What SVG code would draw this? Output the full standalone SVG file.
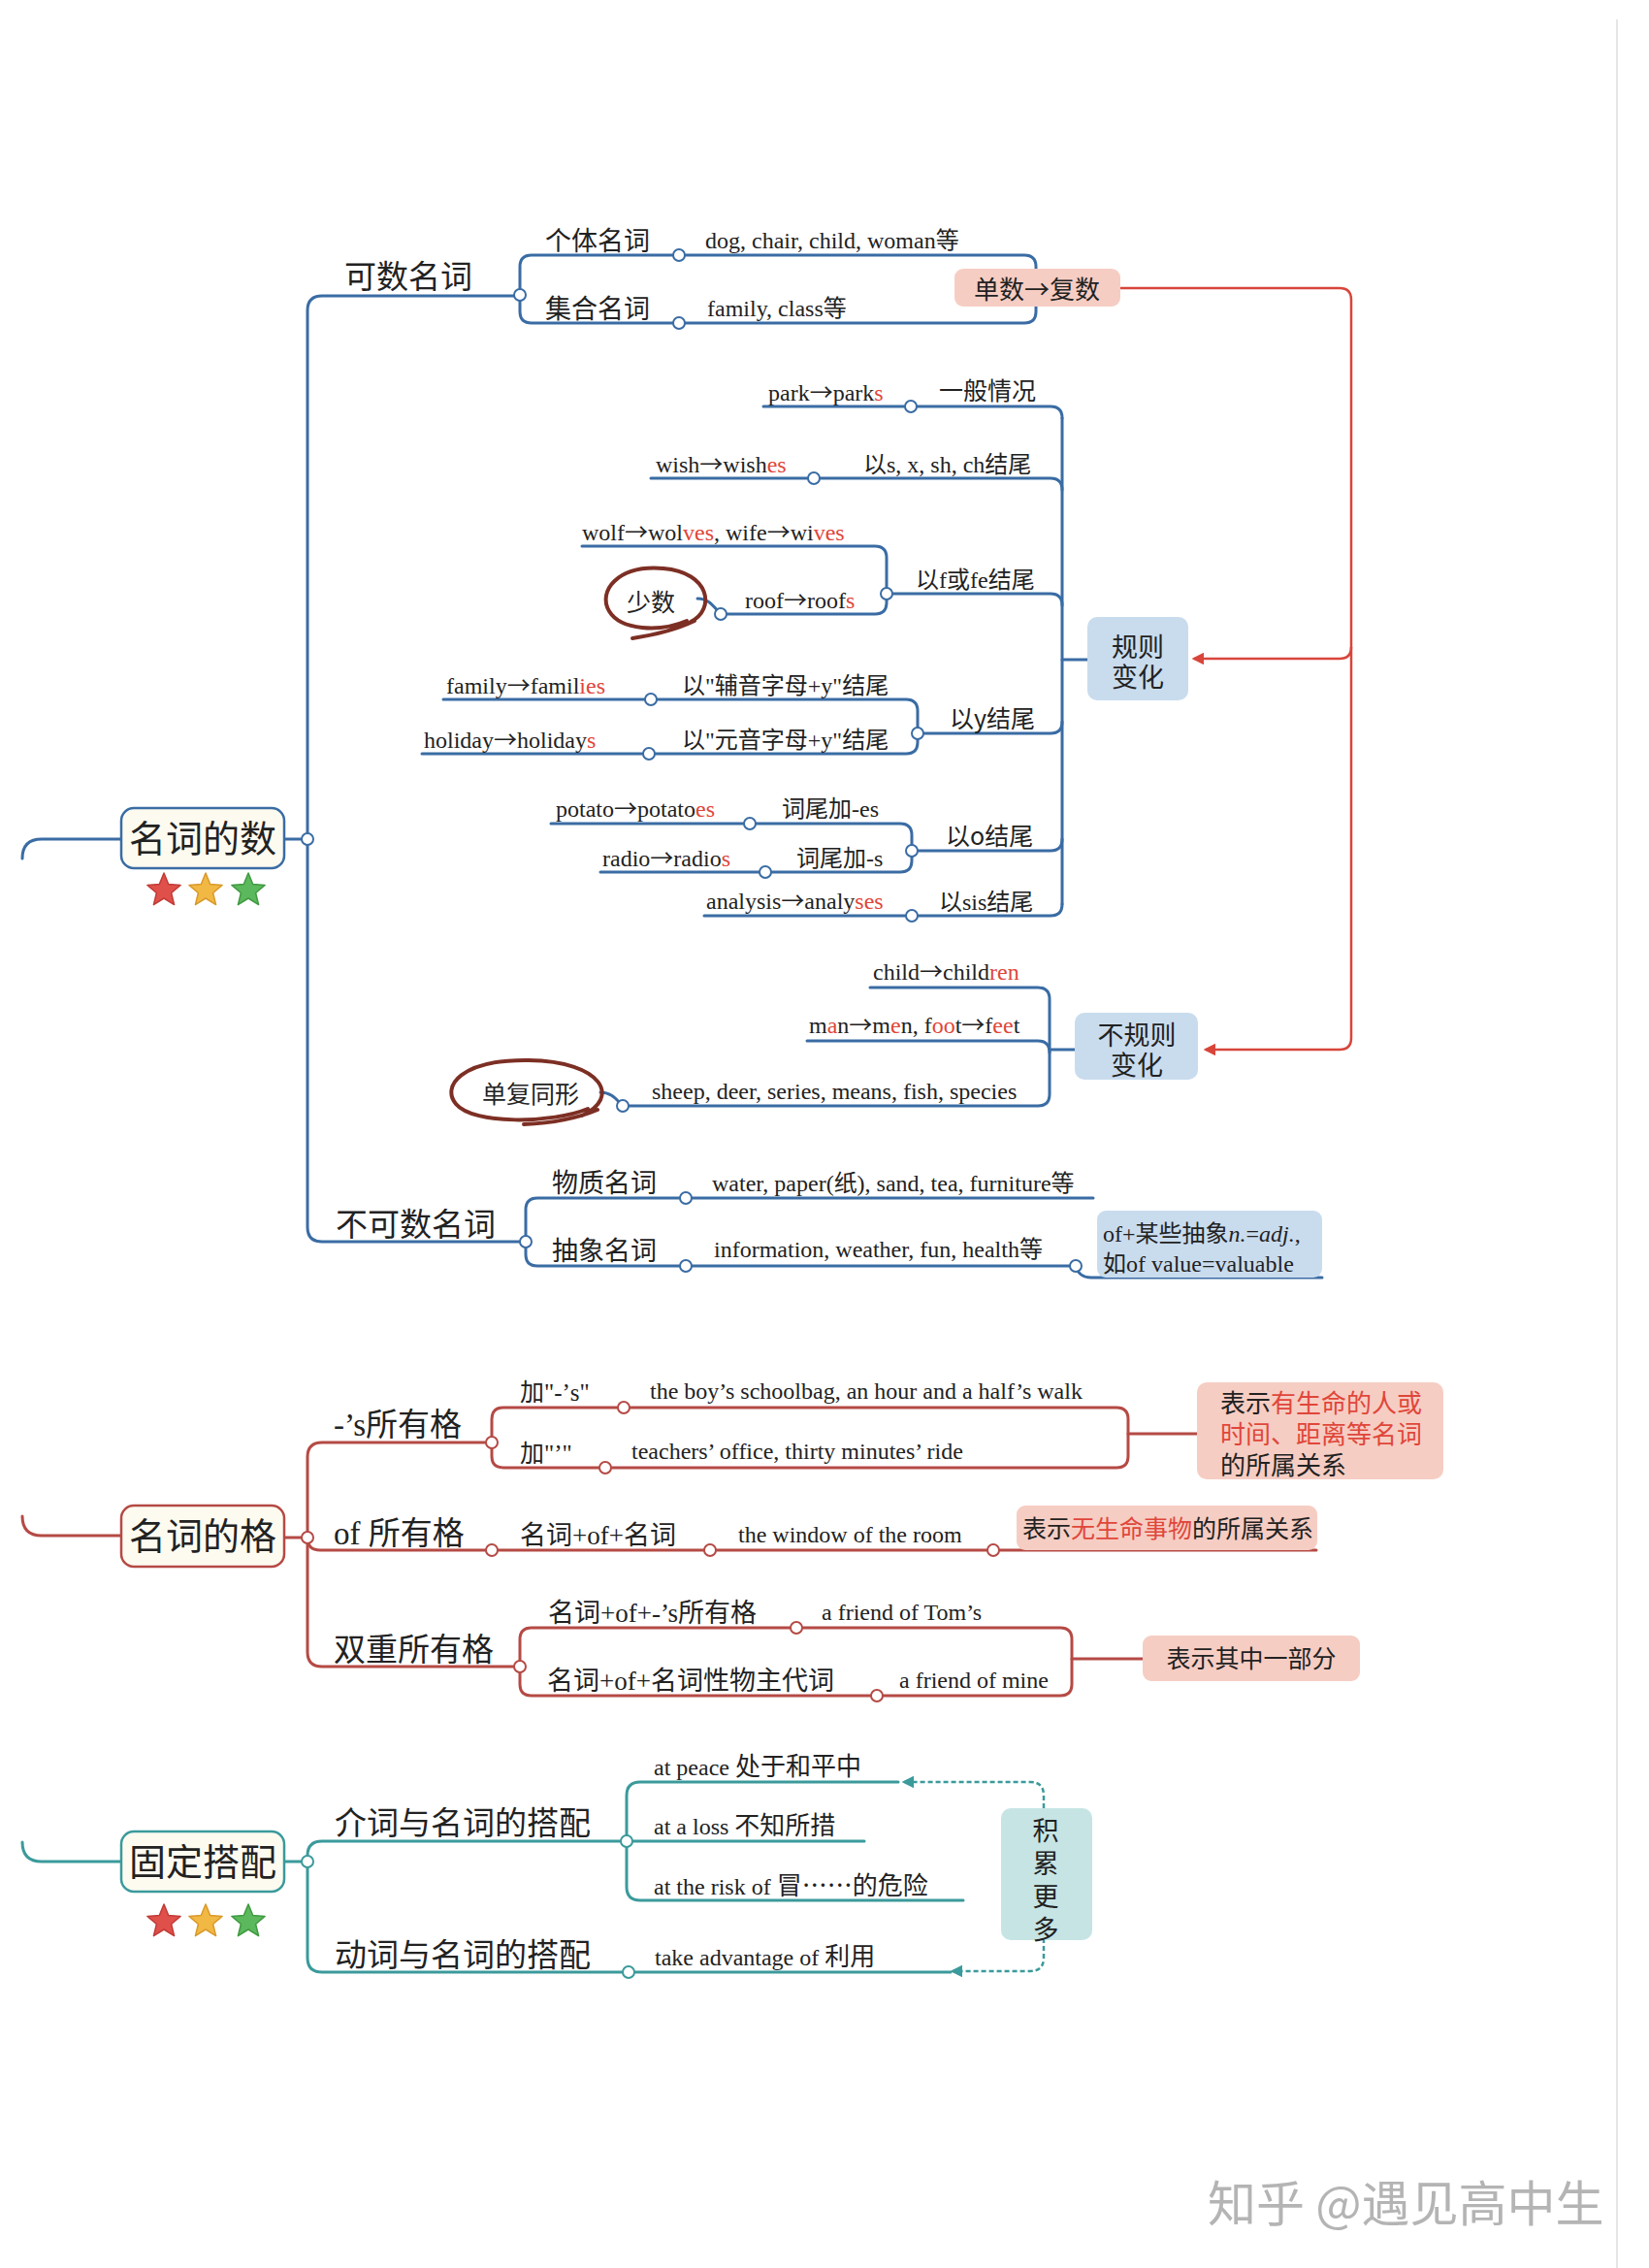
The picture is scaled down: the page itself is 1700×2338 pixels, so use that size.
<svg xmlns="http://www.w3.org/2000/svg" width="1700" height="2338" viewBox="0 0 1700 2338">
<defs>
<style>
.bl{fill:none;stroke:#3a6ca4;stroke-width:3;stroke-linecap:round}
.rd{fill:none;stroke:#b54a45;stroke-width:3;stroke-linecap:round}
.tl{fill:none;stroke:#3b9a9b;stroke-width:3;stroke-linecap:round}
.rl{fill:none;stroke:#d8453b;stroke-width:2.5}
.td{fill:none;stroke:#3b9a9b;stroke-width:2.5;stroke-dasharray:5 3}
.dotb{fill:#fff;stroke:#3a6ca4;stroke-width:2}
.dotr{fill:#fff;stroke:#b54a45;stroke-width:2}
.dott{fill:#fff;stroke:#3b9a9b;stroke-width:2}
.cn{font-family:"Noto Sans CJK SC","Noto Sans",sans-serif;fill:#222}
.en{font-family:"Liberation Serif","Noto Sans CJK SC",serif;fill:#222;font-size:24px}
.ar{font-family:"Noto Sans CJK SC",sans-serif}
.hl{fill:#e0463a}
.big{font-size:38px}
.l1{font-size:33px}
.l2{font-size:27px}
.l3{font-size:25px}
.f26{font-size:26px}
.rootb{fill:#fdfbf0;stroke-width:2.5}
.blue{fill:#c9dcee}
.pink{fill:#f6cdc3}
.teal{fill:#c6e4e4}
.st{stroke-width:1.5;stroke-linejoin:round}
.wm{font-family:"Noto Sans CJK SC",sans-serif;font-size:50px;fill:#b4b4b4}
</style>
<marker id="arrR" viewBox="0 0 10 10" refX="8" refY="5" markerWidth="5" markerHeight="5" orient="auto"><path d="M0,0 L10,5 L0,10 z" fill="#d8453b"/></marker>
<marker id="arrT" viewBox="0 0 10 10" refX="8" refY="5" markerWidth="5" markerHeight="5" orient="auto"><path d="M0,0 L10,5 L0,10 z" fill="#3b9a9b"/></marker>
<path id="star" d="M0,-18 L4.7,-6.5 L17.1,-5.6 L7.6,2.5 L10.6,14.6 L0,8 L-10.6,14.6 L-7.6,2.5 L-17.1,-5.6 L-4.7,-6.5 Z"/>
</defs>

<rect x="0" y="0" width="1700" height="2338" fill="#ffffff"/>
<line x1="1667" y1="20" x2="1667" y2="2338" stroke="#e6e6e6" stroke-width="2"/>

<!-- connectors -->
<g id="connectors">
  <!-- trunk stubs entering from the left page edge -->
  <path class="bl" d="M23 885 Q23 865 43 865 H125"/>
  <path class="rd" d="M23 1563 Q23 1583 43 1583 H125"/>
  <path class="tl" d="M23 1899 Q23 1919 43 1919 H125"/>

  <!-- 名词的数 -->
  <path class="bl" d="M293 865 H317"/>
  <path class="bl" d="M536 305 H332 Q317 305 317 320 V1265 Q317 1280 332 1280 H542"/>
  <path class="bl" d="M548 263 H1056 Q1068 263 1068 275 V321 Q1068 333 1056 333 H548 Q536 333 536 321 V275 Q536 263 548 263"/>

  <!-- 规则变化 -->
  <path class="bl" d="M1095 431 V932"/>
  <path class="bl" d="M787 419 H1083 Q1095 419 1095 431"/>
  <path class="bl" d="M671 493 H1083 Q1095 493 1095 505"/>
  <path class="bl" d="M914 612 H1083 Q1095 612 1095 624"/>
  <path class="bl" d="M600 563 H902 Q914 563 914 575 V621 Q914 633 902 633 H743"/>
  <path class="bl" d="M719 617 C731 617 736 626 743 633"/>
  <path class="bl" d="M946 756 H1083 Q1095 756 1095 744"/>
  <path class="bl" d="M457 721 H934 Q946 721 946 733 V765 Q946 777 934 777 H435"/>
  <path class="bl" d="M940 877 H1083 Q1095 877 1095 865"/>
  <path class="bl" d="M568 849 H928 Q940 849 940 861 V887 Q940 899 928 899 H619"/>
  <path class="bl" d="M726 944 H1083 Q1095 944 1095 932"/>
  <path class="bl" d="M1095 680 H1122"/>

  <!-- 不规则变化 -->
  <path class="bl" d="M897 1018 H1070 Q1082 1018 1082 1030 V1128 Q1082 1140 1070 1140 H642"/>
  <path class="bl" d="M832 1073 H1070 Q1082 1073 1082 1085"/>
  <path class="bl" d="M1082 1082 H1109"/>
  <path class="bl" d="M619 1126 C630 1126 635 1133 642 1140"/>

  <!-- 不可数名词 -->
  <path class="bl" d="M1127 1235 H554 Q542 1235 542 1247 V1293 Q542 1305 554 1305 H1109"/>
  <path class="bl" d="M1109 1305 Q1112 1317 1125 1317 H1363"/>

  <!-- 单数→复数 -->
  <path class="rl" d="M1155 297 H1381 Q1393 297 1393 309 V1070 Q1393 1082 1381 1082 H1243" marker-end="url(#arrR)"/>
  <path class="rl" d="M1393 667 Q1393 679 1381 679 H1231" marker-end="url(#arrR)"/>

  <!-- 名词的格 -->
  <path class="rd" d="M293 1585 H317"/>
  <path class="rd" d="M507 1487 H332 Q317 1487 317 1502 V1703 Q317 1718 332 1718 H536"/>
  <path class="rd" d="M317 1585 Q317 1598 330 1598 H1357"/>
  <path class="rd" d="M519 1451 H1151 Q1163 1451 1163 1463 V1501 Q1163 1513 1151 1513 H519 Q507 1513 507 1501 V1463 Q507 1451 519 1451"/>
  <path class="rd" d="M1163 1478 H1234"/>
  <path class="rd" d="M548 1678 H1093 Q1105 1678 1105 1690 V1736 Q1105 1748 1093 1748 H548 Q536 1748 536 1736 V1690 Q536 1678 548 1678"/>
  <path class="rd" d="M1105 1710 H1178"/>

  <!-- 固定搭配 -->
  <path class="tl" d="M293 1919 H317"/>
  <path class="tl" d="M646 1898 H332 Q317 1898 317 1913 V2018 Q317 2033 332 2033 H980"/>
  <path class="tl" d="M926 1837 H660 Q646 1837 646 1851 V1945 Q646 1959 660 1959 H993"/>
  <path class="tl" d="M646 1898 H891"/>
  <path class="td" d="M1076 1864 V1851 Q1076 1837 1062 1837 H932" marker-end="url(#arrT)"/>
  <path class="td" d="M1076 1998 V2018 Q1076 2032 1062 2032 H982" marker-end="url(#arrT)"/>

  <!-- junction dots -->
  <g class="dotb">
    <circle cx="317" cy="865" r="6"/>
    <circle cx="536" cy="304" r="6"/>
    <circle cx="700" cy="263" r="6"/>
    <circle cx="700" cy="333" r="6"/>
    <circle cx="939" cy="419" r="6"/>
    <circle cx="839" cy="493" r="6"/>
    <circle cx="914" cy="612" r="6"/>
    <circle cx="743" cy="633" r="6"/>
    <circle cx="946" cy="756" r="6"/>
    <circle cx="671" cy="721" r="6"/>
    <circle cx="669" cy="777" r="6"/>
    <circle cx="940" cy="877" r="6"/>
    <circle cx="773" cy="849" r="6"/>
    <circle cx="789" cy="899" r="6"/>
    <circle cx="940" cy="944" r="6"/>
    <circle cx="642" cy="1140" r="6"/>
    <circle cx="542" cy="1280" r="6"/>
    <circle cx="707" cy="1235" r="6"/>
    <circle cx="707" cy="1305" r="6"/>
    <circle cx="1109" cy="1305" r="6"/>
  </g>
  <g class="dotr">
    <circle cx="317" cy="1585" r="6"/>
    <circle cx="507" cy="1487" r="6"/>
    <circle cx="643" cy="1451" r="6"/>
    <circle cx="624" cy="1513" r="6"/>
    <circle cx="507" cy="1598" r="6"/>
    <circle cx="732" cy="1598" r="6"/>
    <circle cx="1024" cy="1598" r="6"/>
    <circle cx="536" cy="1718" r="6"/>
    <circle cx="821" cy="1678" r="6"/>
    <circle cx="904" cy="1748" r="6"/>
  </g>
  <g class="dott">
    <circle cx="317" cy="1919" r="6"/>
    <circle cx="646" cy="1898" r="6"/>
    <circle cx="648" cy="2033" r="6"/>
  </g>
</g>

<!-- 名词的数 -->
<g id="node-number">
  <rect class="rootb" x="125" y="833" width="168" height="62" rx="13" stroke="#3a6ca4"/>
  <text class="cn big" x="209" y="878" text-anchor="middle">名词的数</text>
  <use href="#star" x="169" y="918" class="st" fill="#e0504b" stroke="#c23a36"/>
  <use href="#star" x="212" y="918" class="st" fill="#f2b844" stroke="#d9992a"/>
  <use href="#star" x="256" y="918" class="st" fill="#5cb85c" stroke="#3f9a40"/>
</g>

<g id="node-countable"><text class="cn l1" x="355" y="297">可数名词</text></g>
<g id="node-individual">
  <text class="cn l2" x="562" y="258">个体名词</text>
  <text class="en" x="727" y="256">dog, chair, child, woman等</text>
</g>
<g id="node-collective">
  <text class="cn l2" x="562" y="328">集合名词</text>
  <text class="en" x="729" y="326">family, class等</text>
</g>
<g id="node-sg-pl">
  <rect class="pink" x="984" y="277" width="171" height="39" rx="9"/>
  <text class="cn f26" x="1069" y="308" text-anchor="middle">单数→复数</text>
</g>

<g id="node-regular">
  <rect class="blue" x="1121" y="636" width="104" height="86" rx="10"/>
  <text class="cn l2" text-anchor="middle"><tspan x="1173" y="677">规则</tspan><tspan x="1173" y="708">变化</tspan></text>
</g>
<g id="node-general">
  <text class="en" x="792" y="413">park<tspan class="ar">→</tspan>park<tspan class="hl">s</tspan></text>
  <text class="cn l3" x="968" y="412">一般情况</text>
</g>
<g id="node-sxshch">
  <text class="en" x="676" y="487">wish<tspan class="ar">→</tspan>wish<tspan class="hl">es</tspan></text>
  <text class="en" x="890" y="487">以s, x, sh, ch结尾</text>
</g>
<g id="node-ffe">
  <text class="en" x="944" y="606">以f或fe结尾</text>
  <text class="en" x="600" y="557">wolf<tspan class="ar">→</tspan>wol<tspan class="hl">ves</tspan>, wife<tspan class="ar">→</tspan>wi<tspan class="hl">ves</tspan></text>
  <text class="en" x="768" y="627">roof<tspan class="ar">→</tspan>roof<tspan class="hl">s</tspan></text>
</g>
<g id="node-few">
  <path d="M712 641 C738 628 732 590 684 586 C636 582 616 610 628 630 C640 650 680 652 708 640 M716 640 C695 650 672 655 652 658" fill="none" stroke="#7d2f24" stroke-width="4" stroke-linecap="round"/>
  <text class="cn l3" x="671" y="630" text-anchor="middle">少数</text>
</g>
<g id="node-y">
  <text class="cn l3" x="979" y="750">以y结尾</text>
  <text class="en" x="460" y="715">family<tspan class="ar">→</tspan>famil<tspan class="hl">ies</tspan></text>
  <text class="en" x="703" y="715">以"辅音字母+y"结尾</text>
  <text class="en" x="437" y="771">holiday<tspan class="ar">→</tspan>holiday<tspan class="hl">s</tspan></text>
  <text class="en" x="703" y="771">以"元音字母+y"结尾</text>
</g>
<g id="node-o">
  <text class="cn l3" x="975" y="871">以o结尾</text>
  <text class="en" x="573" y="842">potato<tspan class="ar">→</tspan>potato<tspan class="hl">es</tspan></text>
  <text class="en" x="806" y="842">词尾加-es</text>
  <text class="en" x="621" y="893">radio<tspan class="ar">→</tspan>radio<tspan class="hl">s</tspan></text>
  <text class="en" x="821" y="893">词尾加-s</text>
</g>
<g id="node-sis">
  <text class="en" x="968" y="938">以sis结尾</text>
  <text class="en" x="728" y="937">analysis<tspan class="ar">→</tspan>analy<tspan class="hl">ses</tspan></text>
</g>

<g id="node-irregular">
  <rect class="blue" x="1108" y="1044" width="127" height="69" rx="10"/>
  <text class="cn l2" text-anchor="middle"><tspan x="1172" y="1077">不规则</tspan><tspan x="1172" y="1108">变化</tspan></text>
  <text class="en" x="900" y="1010">child<tspan class="ar">→</tspan>child<tspan class="hl">ren</tspan></text>
  <text class="en" x="834" y="1065">m<tspan class="hl">a</tspan>n<tspan class="ar">→</tspan>m<tspan class="hl">e</tspan>n, f<tspan class="hl">oo</tspan>t<tspan class="ar">→</tspan>f<tspan class="hl">ee</tspan>t</text>
  <text class="en" x="672" y="1133">sheep, deer, series, means, fish, species</text>
</g>
<g id="node-same">
  <path d="M600 1150 C640 1132 622 1094 545 1093 C475 1092 455 1120 470 1138 C488 1160 570 1158 606 1143 M616 1144 C590 1155 565 1158 540 1159" fill="none" stroke="#7d2f24" stroke-width="4" stroke-linecap="round"/>
  <text class="cn l3" x="547" y="1137" text-anchor="middle">单复同形</text>
</g>

<g id="node-uncountable"><text class="cn l1" x="346" y="1274">不可数名词</text></g>
<g id="node-material">
  <text class="cn l2" x="569" y="1229">物质名词</text>
  <text class="en" x="734" y="1228">water, paper(纸), sand, tea, furniture等</text>
</g>
<g id="node-abstract">
  <text class="cn l2" x="569" y="1299">抽象名词</text>
  <text class="en" x="736" y="1296">information, weather, fun, health等</text>
</g>
<g id="node-of-abstract">
  <rect class="blue" x="1131" y="1248" width="232" height="69" rx="9"/>
  <text class="en"><tspan x="1137" y="1280">of+某些抽象<tspan font-style="italic">n.</tspan>=<tspan font-style="italic">adj.</tspan>,</tspan><tspan x="1137" y="1311">如of value=valuable</tspan></text>
</g>

<!-- 名词的格 -->
<g id="node-case">
  <rect class="rootb" x="125" y="1552" width="168" height="63" rx="13" stroke="#b54a45"/>
  <text class="cn big" x="209" y="1597" text-anchor="middle">名词的格</text>
</g>
<g id="node-s-case">
  <text class="en" x="344" y="1480" style="font-size:33px">-’s<tspan class="cn">所有格</tspan></text>
  <text class="en" x="536" y="1444" style="font-size:25px">加"-’s"</text>
  <text class="en" x="670" y="1442">the boy’s schoolbag, an hour and a half’s walk</text>
  <text class="en" x="536" y="1507" style="font-size:25px">加"’"</text>
  <text class="en" x="651" y="1504">teachers’ office, thirty minutes’ ride</text>
</g>
<g id="node-living">
  <rect class="pink" x="1234" y="1425" width="254" height="100" rx="10"/>
  <text class="cn f26"><tspan x="1258" y="1456">表示<tspan class="hl">有生命的人或</tspan></tspan><tspan class="hl" x="1258" y="1488">时间、距离等名词</tspan><tspan x="1258" y="1520">的所属关系</tspan></text>
</g>
<g id="node-of-case">
  <text class="en" x="344" y="1592" style="font-size:33px">of <tspan class="cn">所有格</tspan></text>
  <text class="en" x="536" y="1592" style="font-size:27px">名词+of+名词</text>
  <text class="en" x="761" y="1590">the window of the room</text>
</g>
<g id="node-lifeless">
  <rect class="pink" x="1048" y="1552" width="310" height="46" rx="9"/>
  <text class="cn l3" x="1054" y="1585">表示<tspan class="hl">无生命事物</tspan>的所属关系</text>
</g>
<g id="node-double">
  <text class="cn l1" x="344" y="1712">双重所有格</text>
  <text class="en" x="565" y="1672" style="font-size:27px">名词+of+-’s所有格</text>
  <text class="en" x="847" y="1670">a friend of Tom’s</text>
  <text class="en" x="564" y="1742" style="font-size:27px">名词+of+名词性物主代词</text>
  <text class="en" x="927" y="1740">a friend of mine</text>
</g>
<g id="node-part">
  <rect class="pink" x="1178" y="1686" width="224" height="47" rx="9"/>
  <text class="cn l3" x="1290" y="1719" text-anchor="middle">表示其中一部分</text>
</g>

<!-- 固定搭配 -->
<g id="node-fixed">
  <rect class="rootb" x="125" y="1888" width="168" height="62" rx="13" stroke="#3b9a9b"/>
  <text class="cn big" x="209" y="1933" text-anchor="middle">固定搭配</text>
  <use href="#star" x="169" y="1981" class="st" fill="#e0504b" stroke="#c23a36"/>
  <use href="#star" x="212" y="1981" class="st" fill="#f2b844" stroke="#d9992a"/>
  <use href="#star" x="256" y="1981" class="st" fill="#5cb85c" stroke="#3f9a40"/>
</g>
<g id="node-prep">
  <text class="cn l1" x="345" y="1891">介词与名词的搭配</text>
  <text class="en" x="674" y="1830">at peace <tspan class="cn f26">处于和平中</tspan></text>
  <text class="en" x="674" y="1891">at a loss <tspan class="cn f26">不知所措</tspan></text>
  <text class="en" x="674" y="1953">at the risk of <tspan class="cn f26">冒……的危险</tspan></text>
</g>
<g id="node-verb">
  <text class="cn l1" x="345" y="2027">动词与名词的搭配</text>
  <text class="en" x="675" y="2026">take advantage of <tspan class="cn f26">利用</tspan></text>
</g>
<g id="node-more">
  <rect class="teal" x="1032" y="1864" width="94" height="136" rx="10"/>
  <text class="cn l2" x="1078" y="1873" writing-mode="tb" letter-spacing="7">积累更多</text>
</g>

<text class="wm" x="1245" y="2290">知乎 @遇见高中生</text>
</svg>
